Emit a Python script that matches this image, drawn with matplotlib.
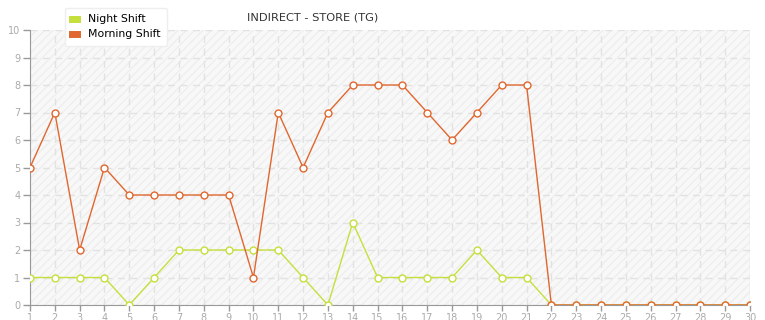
import numpy as np
import matplotlib.pyplot as plt

days = list(range(1, 31))
night_shift = [1, 1, 1, 1, 0, 1, 2, 2, 2, 2, 2, 1, 0, 3, 1, 1, 1, 1, 2, 1, 1, 0,
               0, 0, 0, 0, 0, 0, 0, 0]
morning_shift = [5, 7, 2, 5, 4, 4, 4, 4, 4, 1, 7, 5, 7, 8, 8, 8, 7, 6, 7, 8, 8, 0,
                 0, 0, 0, 0, 0, 0, 0, 0]
yticks = list(range(0, 11))

night_color = '#c5e03c'
morning_color = '#e0672f'
gray = '#999999'

fig = plt.figure(figsize=(7.65, 3.2), dpi=100)
ax = fig.add_axes([30 / 765, 15 / 320, 720 / 765, 275 / 320])

# background with faint hatching
ax.set_facecolor('#f8f8f8')
ax.fill_between([1, 30], 0, 10, facecolor='none', edgecolor='#eeeeee',
                hatch='////', linewidth=0, zorder=0)

ax.plot(days, night_shift, color=night_color, lw=1, marker='o', ms=5,
        mfc='white', mec=night_color, mew=1, label='Night Shift', zorder=3)
ax.plot(days, morning_shift, color=morning_color, lw=1, marker='o', ms=5,
        mfc='white', mec=morning_color, mew=1, label='Morning Shift', zorder=4)

ax.set_xlim(1, 30)
ax.set_ylim(0, 10)
ax.set_xticks(days)
ax.set_yticks(yticks)
ax.grid(True, color='#e2e2e2', linestyle=(0, (5, 4)), linewidth=1)
ax.set_axisbelow(True)

for s in ['top', 'right']:
    ax.spines[s].set_visible(False)
ax.spines['left'].set_color(gray)
ax.spines['bottom'].set_color(gray)
ax.tick_params(colors=gray, labelsize=7, length=4, width=1, pad=2)
ax.tick_params(axis='y', length=5)
for lab in ax.get_xticklabels() + ax.get_yticklabels():
    lab.set_color('#aaaaaa')

# right edge line
ax.axvline(30, color='#e6e6e6', lw=1, zorder=1)

fig.text(313 / 765, 1 - 18 / 320, 'INDIRECT - STORE (TG)', ha='center',
         va='center', fontsize=8.2, color='#333333')

leg = fig.legend(loc='upper left', bbox_to_anchor=(65 / 765, 1 - 8 / 320),
                 fontsize=7.8, frameon=True, fancybox=True, handlelength=0.5,
                 handletextpad=1.0, borderpad=0.6, labelspacing=0.45,
                 borderaxespad=0, markerscale=0)
leg.get_frame().set_edgecolor('#eeeeee')
leg.get_frame().set_facecolor('white')
leg.get_frame().set_alpha(1)
leg.set_zorder(10)
for h, c in zip(leg.legend_handles, [night_color, morning_color]):
    h.set_linewidth(5)
    h.set_color(c)

fig.savefig('out.png', dpi=100)
